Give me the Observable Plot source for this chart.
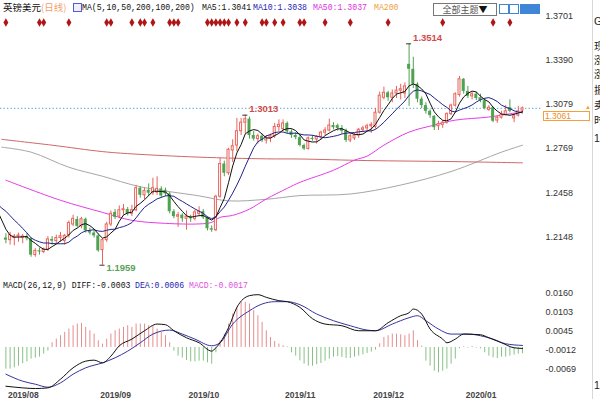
<!DOCTYPE html>
<html><head><meta charset="utf-8">
<script src="https://cdn.jsdelivr.net/npm/d3@7"></script>
<script src="https://cdn.jsdelivr.net/npm/@observablehq/plot@0.6"></script>
<style>
html,body{margin:0;padding:0;background:#fff;}
#wrap{position:relative;width:600px;height:399px;overflow:hidden;background:#fff;font-family:"Liberation Sans",Arial,sans-serif;}
.a{position:absolute;white-space:nowrap;line-height:10px;}
.cjk{font-family:"Noto Sans CJK SC",sans-serif;font-size:9.5px;}
.mono{font-family:"Liberation Mono","DejaVu Sans Mono",monospace;font-size:9.5px;transform:scaleX(0.86);transform-origin:0 0;}
#main,#macd{position:absolute;left:0;}
#main{top:0}
#macd{top:280px}
.ico{position:absolute;top:4px;width:8px;height:8px;border:1px solid #3f86d6;background:#fff;}
.side{position:absolute;left:594px;font-family:"Noto Sans CJK SC",sans-serif;font-size:10.5px;line-height:11px;height:11px;color:#222;}
</style></head><body>
<div id="wrap">
<div id="main"></div>
<div id="macd"></div>

<div class="a cjk" style="left:3px;top:2px;color:#111">英镑美元</div>
<div class="a cjk" style="left:41px;top:2px;color:#f2a070">(日线)</div>
<div class="a" style="left:73px;top:3px;width:7px;height:7px;border:1px solid #5a5ad0;background:#eef"></div>
<div class="a mono" style="left:82px;top:3px;color:#111">MA(5,10,50,200,100,200)</div>
<div class="a mono" style="left:202px;top:3px;color:#111">MA5:1.3041</div>
<div class="a mono" style="left:253px;top:3px;color:#2424b4">MA10:1.3038</div>
<div class="a mono" style="left:313px;top:3px;color:#e030e0">MA50:1.3037</div>
<div class="a mono" style="left:374px;top:3px;color:#f0a040">MA200</div>
<div class="a cjk" style="left:433px;top:3px;width:62px;height:11px;border:1px solid #777;color:#555;font-size:9px;line-height:11px;text-align:center">全部主题<span style="color:#111">▼</span></div>
<div class="ico" style="left:499px"></div>
<div class="ico" style="left:509px"></div>
<div class="ico" style="left:520px;background:#3f86d6"></div>
<div class="ico" style="left:530px;background:#3f86d6"></div>

<div class="a mono" style="left:3px;top:281px;color:#111">MACD(26,12,9) DIFF:-0.0003</div>
<div class="a mono" style="left:135px;top:281px;color:#2424b4">DEA:0.0006</div>
<div class="a mono" style="left:189px;top:281px;color:#e050e0">MACD:-0.0017</div>

<div class="a" style="left:543px;top:111px;width:44px;height:8px;border:1px solid #f0a040;color:#f08a20;font-size:8.5px;line-height:8px;padding-left:1px">1.3061</div>
<div class="a" style="left:585px;top:104px;color:#f0a040;font-size:6px;line-height:6px">▲</div>

<div class="a" style="left:592px;top:0;width:1px;height:399px;background:#d8d8d8"></div>
<div class="side" style="top:16px;font-family:'Liberation Sans'">G</div>
<div class="side" style="top:40px">现</div>
<div class="side" style="top:54px">涨</div>
<div class="side" style="top:68px">涨</div>
<div class="side" style="top:84px">振</div>
<div class="side" style="top:99px">卖</div>
<div class="side" style="top:114px">时</div>
<div class="side" style="top:133px;font-family:'Liberation Sans'">1</div>
<div class="side" style="top:380px;font-family:'Liberation Sans'">1</div>
</div>

<script>
// ---------- data ----------
const monthLabels = ["2019/08","2019/09","2019/10","2019/11","2019/12","2020/01"];
const monthIdx    = [1, 23, 44, 67, 88, 110];
const priceTicks  = [1.3701, 1.3390, 1.3079, 1.2769, 1.2458, 1.2148];
const macdTicks   = [0.0160, 0.0103, 0.0045, -0.0012, -0.0069];
const lastPrice   = 1.3061;

// closes before the first visible candle (only feed the MA5 / MA10 windows)
const priorCloses = [1.2480,1.2475,1.2440,1.2470,1.2455,1.2385,1.2225,1.2165,1.2150];

const open = [1.2150,1.2135,1.2150,1.2160,1.2150,1.2160,1.2145,1.2030,1.2060,1.2052,
1.2068,1.2140,1.2128,1.2150,1.2130,1.2170,1.2245,1.2280,1.2232,1.2282,
1.2200,1.2185,1.2165,1.2065,1.2135,1.2245,1.2330,1.2300,1.2345,1.2350,
1.2320,1.2345,1.2500,1.2450,1.2485,1.2465,1.2470,1.2495,1.2485,1.2460,
1.2335,1.2300,1.2310,1.2285,1.2300,1.2285,1.2320,1.2335,1.2292,1.2215,
1.2205,1.2440,1.2670,1.2605,1.2765,1.2800,1.2900,1.2960,1.2985,1.2870,
1.2845,1.2865,1.2835,1.2850,1.2865,1.2930,1.2915,1.2955,1.2895,1.2870,
1.2855,1.2800,1.2775,1.2850,1.2842,1.2860,1.2890,1.2905,1.2940,1.2940,
1.2920,1.2900,1.2835,1.2850,1.2870,1.2910,1.2920,1.2935,1.2930,1.3030,
1.3135,1.3170,1.3135,1.3165,1.3185,1.3165,1.3370,1.3335,1.3230,1.3125,
1.3080,1.3040,1.3005,1.2935,1.2945,1.2960,1.3020,1.3080,1.3155,1.3265,
1.3180,1.3145,1.3160,1.3135,1.3115,1.3050,1.3065,1.2975,1.2995,1.3015,
1.3065,1.2990,1.3010,1.3045];
const high = [1.2180,1.2190,1.2175,1.2185,1.2175,1.2180,1.2150,1.2075,1.2080,1.2080,
1.2160,1.2160,1.2170,1.2190,1.2175,1.2270,1.2310,1.2300,1.2295,1.2290,
1.2220,1.2200,1.2175,1.2145,1.2260,1.2340,1.2350,1.2375,1.2385,1.2365,
1.2380,1.2520,1.2510,1.2500,1.2530,1.2570,1.2580,1.2510,1.2500,1.2470,
1.2350,1.2330,1.2320,1.2340,1.2310,1.2345,1.2370,1.2350,1.2300,1.2235,
1.2450,1.2710,1.2690,1.2780,1.2840,1.2990,1.2990,1.3013,1.3000,1.2900,
1.2880,1.2880,1.2870,1.2880,1.2955,1.2980,1.2980,1.2965,1.2910,1.2890,
1.2870,1.2810,1.2860,1.2870,1.2870,1.2900,1.2925,1.2985,1.2960,1.2950,
1.2940,1.2915,1.2880,1.2885,1.2920,1.2935,1.2950,1.2960,1.3060,1.3175,
1.3210,1.3180,1.3190,1.3215,1.3230,1.3240,1.3514,1.3420,1.3240,1.3140,
1.3100,1.3050,1.3010,1.2970,1.2975,1.3030,1.3090,1.3170,1.3285,1.3270,
1.3215,1.3175,1.3175,1.3160,1.3130,1.3080,1.3070,1.3010,1.3040,1.3080,
1.3120,1.3020,1.3075,1.3070];
const low = [1.2110,1.2100,1.2095,1.2120,1.2110,1.2130,1.2015,1.2015,1.2030,1.2040,
1.2055,1.2100,1.2110,1.2120,1.2100,1.2150,1.2230,1.2220,1.2215,1.2185,
1.2170,1.2150,1.2050,1.1959,1.2120,1.2230,1.2280,1.2285,1.2310,1.2305,
1.2300,1.2335,1.2430,1.2420,1.2440,1.2450,1.2450,1.2430,1.2440,1.2320,
1.2285,1.2225,1.2260,1.2205,1.2260,1.2270,1.2300,1.2280,1.2200,1.2190,
1.2195,1.2430,1.2580,1.2590,1.2680,1.2755,1.2870,1.2880,1.2845,1.2830,
1.2810,1.2820,1.2810,1.2820,1.2850,1.2900,1.2900,1.2880,1.2850,1.2840,
1.2790,1.2765,1.2768,1.2830,1.2810,1.2840,1.2870,1.2895,1.2910,1.2900,
1.2880,1.2820,1.2820,1.2835,1.2850,1.2890,1.2900,1.2885,1.2915,1.3020,
1.3120,1.3110,1.3100,1.3130,1.3120,1.3130,1.3075,1.3200,1.3100,1.3060,
1.3020,1.2990,1.2905,1.2905,1.2920,1.2950,1.3010,1.3070,1.3140,1.3160,
1.3130,1.3120,1.3115,1.3100,1.3050,1.3040,1.2960,1.2955,1.2985,1.3005,
1.3030,1.2960,1.3000,1.3035];
const close = [1.2135,1.2170,1.2160,1.2168,1.2160,1.2145,1.2030,1.2060,1.2052,1.2068,
1.2140,1.2128,1.2150,1.2162,1.2165,1.2255,1.2285,1.2232,1.2282,1.2200,
1.2185,1.2165,1.2060,1.2135,1.2245,1.2320,1.2295,1.2345,1.2352,1.2320,
1.2345,1.2500,1.2450,1.2480,1.2465,1.2500,1.2495,1.2445,1.2460,1.2335,
1.2300,1.2310,1.2285,1.2300,1.2285,1.2330,1.2335,1.2292,1.2215,1.2205,
1.2440,1.2670,1.2605,1.2770,1.2795,1.2900,1.2960,1.2985,1.2870,1.2845,
1.2865,1.2835,1.2850,1.2865,1.2930,1.2945,1.2955,1.2895,1.2870,1.2855,
1.2800,1.2775,1.2850,1.2842,1.2860,1.2890,1.2905,1.2940,1.2925,1.2920,
1.2900,1.2835,1.2865,1.2870,1.2910,1.2920,1.2935,1.2945,1.3030,1.3150,
1.3170,1.3135,1.3165,1.3185,1.3195,1.3215,1.3335,1.3230,1.3125,1.3080,
1.3040,1.3010,1.2925,1.2950,1.2960,1.3020,1.3080,1.3160,1.3265,1.3180,
1.3145,1.3160,1.3130,1.3115,1.3060,1.3065,1.2970,1.2995,1.3015,1.3040,
1.3040,1.3005,1.3040,1.3061];

// slow moving averages (candle index, price)
const ma50Idx  = [1,14,24,31,39,47,50,52,55,59,63,68,71,79,84,87,91,97,103,108,116,124];
const ma50Val  = [1.2556,1.2415,1.2330,1.2274,1.2253,1.2249,1.2260,1.2295,1.2309,1.2353,1.2424,1.2499,1.2541,1.2626,1.2697,1.2725,1.2802,1.2894,1.2943,1.2978,1.3000,1.3037];
const ma100Idx = [0,7,16,24,33,47,54,63,71,83,95,107,119,124];
const ma100Val = [1.2788,1.2753,1.2647,1.2584,1.2510,1.2446,1.2411,1.2422,1.2448,1.2459,1.2522,1.2617,1.2753,1.2802];
const ma200Idx = [0,12,24,31,47,63,71,87,107,124];
const ma200Val = [1.2843,1.2802,1.2757,1.2741,1.2718,1.2706,1.2705,1.2694,1.2687,1.2678];

// MACD histogram, one value per candle
const macdHist = [-0.0065,-0.0065,-0.0061,-0.0056,-0.0049,-0.0043,-0.0035,-0.0032,-0.0029,-0.0020,-0.0011,
0.0014,0.0025,0.0035,0.0045,0.0055,0.0065,0.0070,0.0072,0.0060,0.0050,0.0040,0.0020,0.0010,
0.0025,0.0040,0.0050,0.0055,0.0060,0.0065,0.0060,0.0070,0.0070,0.0070,0.0065,0.0065,0.0055,0.0045,0.0035,0.0014,
-0.0011,-0.0026,-0.0032,-0.0039,-0.0043,-0.0043,-0.0041,-0.0041,-0.0046,-0.0050,-0.0016,
0.0020,0.0040,0.0070,0.0100,0.0120,0.0135,0.0135,0.0130,0.0110,0.0095,0.0075,0.0050,0.0030,0.0018,0.0010,0.0005,0.0002,
-0.0016,-0.0026,
-0.0040,-0.0050,-0.0056,-0.0056,-0.0052,-0.0048,-0.0041,-0.0035,-0.0029,-0.0027,-0.0030,-0.0033,-0.0033,-0.0029,-0.0026,-0.0022,-0.0018,-0.0014,-0.0008,
0.0011,0.0030,0.0035,0.0040,0.0040,0.0038,0.0035,0.0040,0.0050,0.0020,
0.0004,
-0.0041,-0.0056,-0.0071,-0.0076,-0.0071,-0.0065,-0.0050,-0.0035,
-0.0004,0.0002,-0.0002,0.0003,-0.0002,-0.0004,
-0.0016,-0.0026,-0.0031,-0.0033,-0.0029,-0.0029,-0.0026,-0.0023,-0.0020,-0.0019];
const diffIdx = [1,5,8,11,14,17,20,22,24,26,28,31,34,37,39,41,44,47,50,51,54,56,59,61,63,66,68,71,74,77,81,85,89,92,95,97,98,100,102,105,106,108,110,114,116,119,122,124];
const diffVal = [-0.0116,-0.0121,-0.0123,-0.0121,-0.0095,-0.0061,-0.0041,-0.0038,-0.0046,-0.0026,
0.0005,0.0025,0.0050,0.0070,0.0068,0.0050,0.0029,0.0014,-0.0011,-0.0001,
0.0059,0.0120,0.0155,0.0158,0.0150,0.0140,0.0137,0.0120,0.0086,0.0070,
0.0065,0.0050,0.0050,0.0074,0.0095,0.0104,0.0115,0.0100,0.0055,0.0025,
0.0014,0.0025,0.0040,0.0038,0.0029,0.0014,-0.0001,-0.0003];
const deaIdx = [1,5,8,11,14,17,20,24,27,30,33,36,40,43,46,50,52,55,59,62,65,68,71,75,79,83,87,89,93,97,99,101,104,107,111,114,117,120,124];
const deaVal = [-0.0080,-0.0101,-0.0110,-0.0119,-0.0106,-0.0080,-0.0061,-0.0046,-0.0031,-0.0011,
0.0014,0.0040,0.0052,0.0040,0.0025,0.0005,0.0014,0.0070,0.0110,0.0130,
0.0137,0.0137,0.0128,0.0100,0.0080,0.0065,0.0052,0.0050,0.0070,0.0089,
0.0095,0.0080,0.0055,0.0040,0.0040,0.0035,0.0025,0.0011,0.0006];

// news event markers (candle index)
const eventIdx = [1,9,10,16,25,26,31,33,34,36,40,41,42,49,50,51,52,53,54,56,58,62,63,65,67,71,72,77,83,92,105,117,121];
// labelled extremes
const markIdx  = [97, 58, 24];
const markVal  = [1.3514, 1.3013, 1.1959];
const markTop  = [true, true, false];

// ---------- build ----------
const RED = "#e8645c", GREEN = "#4fa24f";
const candles = close.map((c, k) => ({i: k + 1, o: open[k], h: high[k], l: low[k], c}));
const upC = candles.filter(d => d.c >= d.o);
const dnC = candles.filter(d => d.c < d.o);
const maData = priorCloses.map((c, k) => ({i: k - priorCloses.length + 1, c}))
  .concat(candles.map(d => ({i: d.i, c: d.c})));
const pts = (ix, vs) => ix.map((i, k) => ({i, v: vs[k]}));
const marks = markIdx.map((i, k) => ({i, v: markVal[k], top: markTop[k], t: markVal[k].toFixed(4)}));
const months = monthIdx.map((i, k) => ({i, label: monthLabels[k]}));
const hist = macdHist.map((v, k) => ({i: k + 1, v}));

const X = {domain: [0, 124], range: [1.2, 522], axis: null};
const baseStyle = {background: "transparent", fontFamily: "Liberation Sans, Arial, sans-serif", fontSize: "9px", color: "#333", overflow: "hidden"};
const tickText = (ticks, dy) => Plot.text(ticks, {y: d => d, text: d => d.toFixed(4), frameAnchor: "right",
  dx: 3, dy, textAnchor: "start", fill: "#333", fontSize: 9});

const main = Plot.plot({
  width: 600, height: 280, marginLeft: 0, marginRight: 58, marginTop: 0, marginBottom: 0,
  x: X,
  y: {domain: [1.2148, 1.3701], range: [237.8, 16.7], axis: null},
  style: baseStyle,
  marks: [
    Plot.ruleY([lastPrice], {stroke: "#4a9fd8", strokeDasharray: "1.3,2.2", strokeWidth: 1}),
    Plot.line(pts(ma100Idx, ma100Val), {x: "i", y: "v", stroke: "#a6a6a6", strokeWidth: 1, curve: "catmull-rom", clip: true}),
    Plot.line(pts(ma200Idx, ma200Val), {x: "i", y: "v", stroke: "#cc6868", strokeWidth: 1, curve: "catmull-rom", clip: true}),
    Plot.line(pts(ma50Idx, ma50Val), {x: "i", y: "v", stroke: "#e63ce6", strokeWidth: 1, curve: "catmull-rom", clip: true}),
    Plot.ruleX(upC, {x: "i", y1: "l", y2: "h", stroke: RED, strokeWidth: 1}),
    Plot.ruleX(dnC, {x: "i", y1: "l", y2: "h", stroke: GREEN, strokeWidth: 1}),
    Plot.rect(dnC, {x1: d => d.i - 0.5, x2: d => d.i + 0.5, y1: "o", y2: "c", fill: GREEN, insetLeft: 0.6, insetRight: 0.6}),
    Plot.rect(upC, {x1: d => d.i - 0.5, x2: d => d.i + 0.5, y1: "o", y2: "c", fill: "white", stroke: RED, strokeWidth: 1, insetLeft: 1.1, insetRight: 1.1}),
    Plot.line(maData, Plot.windowY({k: 10, anchor: "end"}, {x: "i", y: "c", stroke: "#22228a", strokeWidth: 1, clip: true})),
    Plot.line(maData, Plot.windowY({k: 5, anchor: "end"}, {x: "i", y: "c", stroke: "#111", strokeWidth: 1, clip: true})),
    Plot.ruleY(marks, {y: "v", x1: d => d.i - 0.6, x2: d => d.i + 0.6, stroke: "#333"}),
    Plot.text(marks.filter(d => d.top), {x: "i", y: "v", text: "t", textAnchor: "start", dx: 4, dy: -6,
      fill: "#d24a4a", fontSize: 9.5, fontWeight: "bold"}),
    Plot.text(marks.filter(d => !d.top), {x: "i", y: "v", text: "t", textAnchor: "start", dx: 4, dy: 3,
      fill: "#5aa35a", fontSize: 9.5, fontWeight: "bold"}),
    Plot.dot(eventIdx, {x: d => d, frameAnchor: "top", dy: 22, symbol: "diamond", r: 2.6, fill: "#b01515", stroke: "none"}),
    tickText(priceTicks, -1.5)
  ]
});
document.getElementById("main").appendChild(main);

const macd = Plot.plot({
  width: 600, height: 119, marginLeft: 0, marginRight: 58, marginTop: 0, marginBottom: 10,
  x: X,
  y: {domain: [-0.0069, 0.0160], range: [90, 13.5], axis: null},
  style: baseStyle,
  marks: [
    Plot.ruleX(hist.filter(d => d.v >= 0), {x: "i", y1: 0, y2: "v", stroke: "#e58e8e", strokeWidth: 1}),
    Plot.ruleX(hist.filter(d => d.v < 0), {x: "i", y1: 0, y2: "v", stroke: "#86c286", strokeWidth: 1}),
    Plot.line(pts(deaIdx, deaVal), {x: "i", y: "v", stroke: "#34349e", strokeWidth: 1, curve: "monotone-x"}),
    Plot.line(pts(diffIdx, diffVal), {x: "i", y: "v", stroke: "#111", strokeWidth: 1, curve: "monotone-x"}),
    tickText(macdTicks, -1),
    Plot.text(months, {x: "i", text: "label", frameAnchor: "bottom", dy: 6, dx: 2, textAnchor: "start",
      lineAnchor: "middle", fontSize: 8.5, fontWeight: "bold", fill: "#444"})
  ]
});
document.getElementById("macd").appendChild(macd);
</script>
</body></html>
